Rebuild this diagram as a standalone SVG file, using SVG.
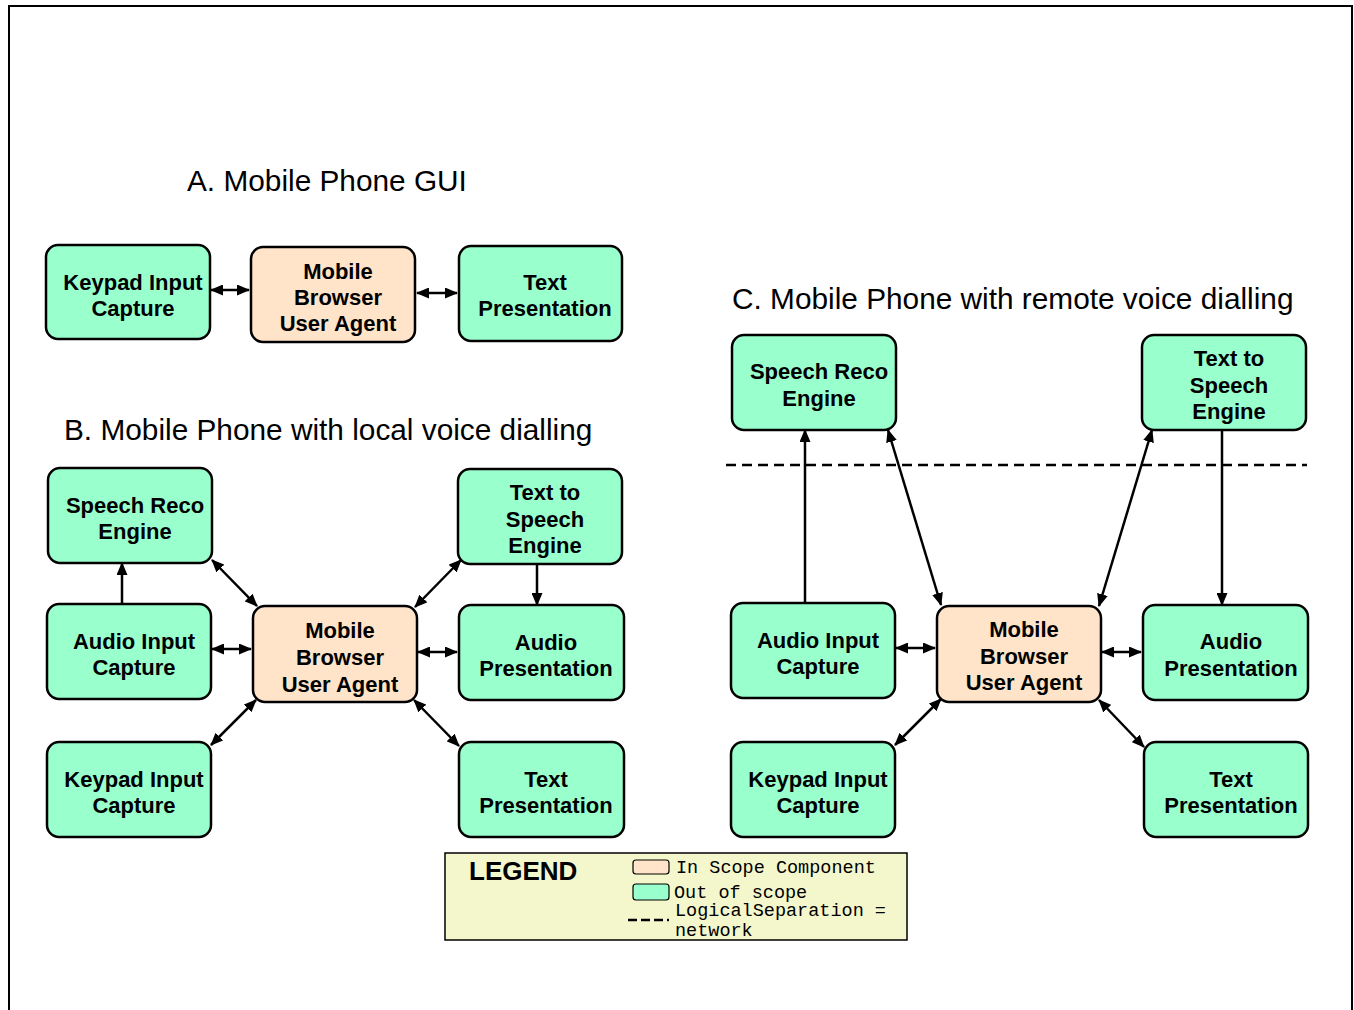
<svg xmlns="http://www.w3.org/2000/svg" width="1354" height="1010" viewBox="0 0 1354 1010">
  <defs>
    <style>
      .title { font-family: "Liberation Sans", Arial, sans-serif; font-size: 29.8px; fill: #000; }
      .box { stroke: #000; stroke-width: 2.5; }
      .out { fill: #99ffcc; }
      .in { fill: #ffe4c9; }
      .lbl { font-family: "Liberation Sans", Arial, sans-serif; font-size: 22px; font-weight: bold; fill: #000; text-anchor: middle; }
      .link { stroke: #000; stroke-width: 2.5; fill: none; }
      .one { marker-end: url(#head); }
      .two { marker-start: url(#head); marker-end: url(#head); }
      .mono { font-family: "Liberation Mono", "Courier New", monospace; font-size: 18.5px; fill: #000; }
    </style>
    <marker id="head" viewBox="0 0 13 11" refX="12" refY="5.5" markerWidth="13" markerHeight="11" markerUnits="userSpaceOnUse" orient="auto-start-reverse">
      <path d="M0,0 L13,5.5 L0,11 z" fill="#000"/>
    </marker>
  </defs>

  <rect width="1354" height="1010" fill="#fff"/>
  <!-- page frame (open at the bottom) -->
  <path d="M9,1010 V6 H1352 V1010" fill="none" stroke="#000" stroke-width="2"/>

  <!-- section titles -->
  <text class="title" x="187" y="191">A. Mobile Phone GUI</text>
  <text class="title" x="64" y="440">B. Mobile Phone with local voice dialling</text>
  <text class="title" x="732" y="309">C. Mobile Phone with remote voice dialling</text>

  <!-- network separation line -->
  <line x1="726" y1="465" x2="1307" y2="465" stroke="#000" stroke-width="2.5" stroke-dasharray="10,6"/>

  <!-- connectors -->
  <g id="connectors">
    <!-- A -->
    <line class="link two" x1="211" y1="290" x2="249" y2="290"/>
    <line class="link two" x1="417" y1="293" x2="457" y2="293"/>
    <!-- B -->
    <line class="link one" x1="122" y1="603" x2="122" y2="563"/>
    <line class="link two" x1="212" y1="560" x2="257" y2="606"/>
    <line class="link two" x1="461" y1="560" x2="415" y2="607"/>
    <line class="link one" x1="537" y1="564" x2="537" y2="605"/>
    <line class="link two" x1="212" y1="649" x2="251" y2="649"/>
    <line class="link two" x1="418" y1="652" x2="457" y2="652"/>
    <line class="link two" x1="256" y1="700" x2="211" y2="745"/>
    <line class="link two" x1="414" y1="700" x2="459" y2="746"/>
    <!-- C -->
    <line class="link one" x1="805" y1="603" x2="805" y2="430"/>
    <line class="link two" x1="888" y1="430" x2="941" y2="605"/>
    <line class="link two" x1="1152" y1="430" x2="1099" y2="606"/>
    <line class="link one" x1="1222" y1="429" x2="1222" y2="605"/>
    <line class="link two" x1="896" y1="648" x2="935" y2="648"/>
    <line class="link two" x1="1102" y1="652" x2="1141" y2="652"/>
    <line class="link two" x1="941" y1="699" x2="895" y2="745"/>
    <line class="link two" x1="1099" y1="700" x2="1144" y2="747"/>
  </g>

  <!-- A. Mobile Phone GUI -->
  <g id="a-keypad">
    <rect class="box out" x="46" y="245" width="164" height="94" rx="12"/>
    <text class="lbl" x="133" y="290">Keypad Input</text>
    <text class="lbl" x="133" y="316">Capture</text>
  </g>
  <g id="a-browser">
    <rect class="box in" x="251" y="247" width="164" height="95" rx="12"/>
    <text class="lbl" x="338" y="279">Mobile</text>
    <text class="lbl" x="338" y="305">Browser</text>
    <text class="lbl" x="338" y="331">User Agent</text>
  </g>
  <g id="a-textpres">
    <rect class="box out" x="459" y="246" width="163" height="95" rx="12"/>
    <text class="lbl" x="545" y="290">Text</text>
    <text class="lbl" x="545" y="316">Presentation</text>
  </g>

  <!-- B. local voice dialling -->
  <g id="b-speechreco">
    <rect class="box out" x="48" y="468" width="164" height="95" rx="12"/>
    <text class="lbl" x="135" y="513">Speech Reco</text>
    <text class="lbl" x="135" y="539">Engine</text>
  </g>
  <g id="b-tts">
    <rect class="box out" x="458" y="469" width="164" height="95" rx="12"/>
    <text class="lbl" x="545" y="500">Text to</text>
    <text class="lbl" x="545" y="527">Speech</text>
    <text class="lbl" x="545" y="553">Engine</text>
  </g>
  <g id="b-audioin">
    <rect class="box out" x="47" y="604" width="164" height="95" rx="12"/>
    <text class="lbl" x="134" y="649">Audio Input</text>
    <text class="lbl" x="134" y="675">Capture</text>
  </g>
  <g id="b-browser">
    <rect class="box in" x="253" y="606" width="164" height="96" rx="12"/>
    <text class="lbl" x="340" y="638">Mobile</text>
    <text class="lbl" x="340" y="665">Browser</text>
    <text class="lbl" x="340" y="692">User Agent</text>
  </g>
  <g id="b-audiopres">
    <rect class="box out" x="459" y="605" width="165" height="95" rx="12"/>
    <text class="lbl" x="546" y="650">Audio</text>
    <text class="lbl" x="546" y="676">Presentation</text>
  </g>
  <g id="b-keypad">
    <rect class="box out" x="47" y="742" width="164" height="95" rx="12"/>
    <text class="lbl" x="134" y="787">Keypad Input</text>
    <text class="lbl" x="134" y="813">Capture</text>
  </g>
  <g id="b-textpres">
    <rect class="box out" x="459" y="742" width="165" height="95" rx="12"/>
    <text class="lbl" x="546" y="787">Text</text>
    <text class="lbl" x="546" y="813">Presentation</text>
  </g>

  <!-- C. remote voice dialling -->
  <g id="c-speechreco">
    <rect class="box out" x="732" y="335" width="164" height="95" rx="12"/>
    <text class="lbl" x="819" y="379">Speech Reco</text>
    <text class="lbl" x="819" y="406">Engine</text>
  </g>
  <g id="c-tts">
    <rect class="box out" x="1142" y="335" width="164" height="95" rx="12"/>
    <text class="lbl" x="1229" y="366">Text to</text>
    <text class="lbl" x="1229" y="393">Speech</text>
    <text class="lbl" x="1229" y="419">Engine</text>
  </g>
  <g id="c-audioin">
    <rect class="box out" x="731" y="603" width="164" height="95" rx="12"/>
    <text class="lbl" x="818" y="648">Audio Input</text>
    <text class="lbl" x="818" y="674">Capture</text>
  </g>
  <g id="c-browser">
    <rect class="box in" x="937" y="606" width="164" height="96" rx="12"/>
    <text class="lbl" x="1024" y="637">Mobile</text>
    <text class="lbl" x="1024" y="664">Browser</text>
    <text class="lbl" x="1024" y="690">User Agent</text>
  </g>
  <g id="c-audiopres">
    <rect class="box out" x="1143" y="605" width="165" height="95" rx="12"/>
    <text class="lbl" x="1231" y="649">Audio</text>
    <text class="lbl" x="1231" y="676">Presentation</text>
  </g>
  <g id="c-keypad">
    <rect class="box out" x="731" y="742" width="164" height="95" rx="12"/>
    <text class="lbl" x="818" y="787">Keypad Input</text>
    <text class="lbl" x="818" y="813">Capture</text>
  </g>
  <g id="c-textpres">
    <rect class="box out" x="1144" y="742" width="164" height="95" rx="12"/>
    <text class="lbl" x="1231" y="787">Text</text>
    <text class="lbl" x="1231" y="813">Presentation</text>
  </g>

  <!-- legend -->
  <g id="legend">
    <rect x="445" y="853" width="462" height="87" fill="#f4f7cb" stroke="#000" stroke-width="1.5"/>
    <text x="469" y="880" font-family="Liberation Sans, Arial, sans-serif" font-size="26" font-weight="bold">LEGEND</text>
    <rect x="633" y="860" width="36" height="14" rx="3" class="in" stroke="#000" stroke-width="1.2"/>
    <text class="mono" x="676" y="873">In Scope Component</text>
    <rect x="633" y="884" width="36" height="16" rx="3" class="out" stroke="#000" stroke-width="1.2"/>
    <text class="mono" x="674" y="898">Out of scope</text>
    <text class="mono" x="675" y="916">LogicalSeparation =</text>
    <text class="mono" x="675" y="936">network</text>
    <line x1="628" y1="920" x2="669" y2="920" stroke="#000" stroke-width="2.5" stroke-dasharray="9,4"/>
  </g>
</svg>
